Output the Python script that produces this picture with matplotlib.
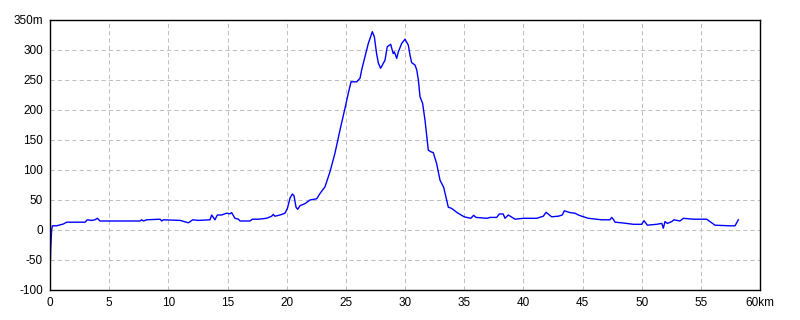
import matplotlib
matplotlib.use("Agg")
import matplotlib.pyplot as plt

# distance (km) and altitude (m)
dist_km = [0, 0.06, 0.14, 0.2, 0.56, 1.13, 1.41, 2.96, 3.15, 3.52, 3.8, 4.0, 4.23,
           7.6, 7.75, 7.89, 8.17, 9.3, 9.44, 9.58, 11.0, 11.69, 12.06, 12.54, 13.52,
           13.66, 13.94, 14.14, 14.5, 14.93, 15.21, 15.35, 15.63, 15.92, 16.06, 16.9,
           17.1, 17.6, 18.3, 18.73, 18.87, 19.0, 19.44, 19.86, 20.06, 20.28, 20.48,
           20.62, 20.79, 20.93, 21.13, 21.55, 21.97, 22.54, 22.82, 23.24, 23.66, 24.08,
           24.51, 24.93, 25.21, 25.44, 25.92, 26.2, 26.34, 26.62, 26.9, 27.24, 27.41,
           27.6, 27.75, 27.94, 28.17, 28.31, 28.5, 28.79, 29.0, 29.1, 29.3, 29.44,
           29.72, 30.0, 30.28, 30.42, 30.56, 30.84, 30.99, 31.13, 31.27, 31.49, 31.69,
           31.97, 32.17, 32.39, 32.67, 32.96, 33.27, 33.52, 33.66, 33.94, 34.44, 35.0,
           35.56, 35.8, 36.0, 36.9, 37.2, 37.75, 37.97, 38.3, 38.45, 38.73, 39.3,
           40.0, 41.13, 41.69, 41.92, 42.39, 42.96, 43.29, 43.46, 43.94, 44.37, 44.65,
           44.93, 45.49, 46.2, 46.62, 47.32, 47.47, 47.6, 47.75, 48.3, 49.3, 50.0,
           50.2, 50.48, 51.27, 51.7, 51.83, 51.97, 52.17, 52.54, 52.73, 53.24, 53.52,
           54.37, 55.49, 55.77, 56.2, 57.46, 57.89, 58.03, 58.17]
alt_m = [-78, -30, 0, 7, 7, 10, 13, 13, 17, 16, 17, 19.5, 15,
         15, 17, 15, 17, 18, 15, 17, 16, 12, 17, 16, 17,
         25, 17, 25, 25, 28, 27, 29, 19.5, 18, 15, 15,
         18, 18, 19.5, 23, 26, 23, 25, 28, 36, 53, 60,
         57, 38, 34.5, 40.5, 44, 50, 52, 61, 72, 97, 128,
         167, 203, 228, 247, 247, 253, 267, 289, 311, 330.5, 322,
         294, 278, 269.5, 278, 283, 305.5, 309.5, 294, 297, 286, 297,
         311, 318, 308, 292, 279, 275, 267, 250, 222, 211, 183,
         133, 130.5, 129, 111, 83, 71, 50, 38, 36, 28.5, 22,
         19.5, 24.5, 21, 19.5, 21, 21, 26.7, 26.7, 19.5, 25, 18,
         19.5, 19.5, 23, 29.5, 22, 23, 25, 32, 29, 28, 25,
         23, 19.5, 18, 17, 17, 21, 18, 13, 12, 9.5, 9.5,
         15.5, 8, 9.5, 11, 3, 14, 11, 14, 17, 15, 19.5,
         18, 18, 14, 8, 7, 7, 12, 17]

x_ticks = [0, 5, 10, 15, 20, 25, 30, 35, 40, 45, 50, 55, 60]
x_labels = ["0", "5", "10", "15", "20", "25", "30", "35", "40", "45", "50", "55", "60km"]
y_ticks = [-100, -50, 0, 50, 100, 150, 200, 250, 300, 350]
y_labels = ["-100", "-50", "0", "50", "100", "150", "200", "250", "300", "350m"]

plt.rcParams["font.family"] = ["Liberation Sans", "DejaVu Sans"]

fig = plt.figure(figsize=(8, 3.2), dpi=100)
ax = fig.add_axes([0.0625, 0.09375, 0.8875, 0.84375])

ax.plot(dist_km, alt_m, color="#0000ff", linewidth=1.0)

ax.set_xlim(0, 60)
ax.set_ylim(-100, 350)
ax.set_xticks(x_ticks)
ax.set_xticklabels(x_labels)
ax.set_yticks(y_ticks)
ax.set_yticklabels(y_labels)
ax.tick_params(length=0, labelsize=8.5, pad=5)
ax.grid(True, color="#c0c0c0", linestyle=(0, (4, 3)), linewidth=0.75)
for s in ax.spines.values():
    s.set_color("black")
    s.set_linewidth(1.0)

fig.savefig("out.png", dpi=100)
